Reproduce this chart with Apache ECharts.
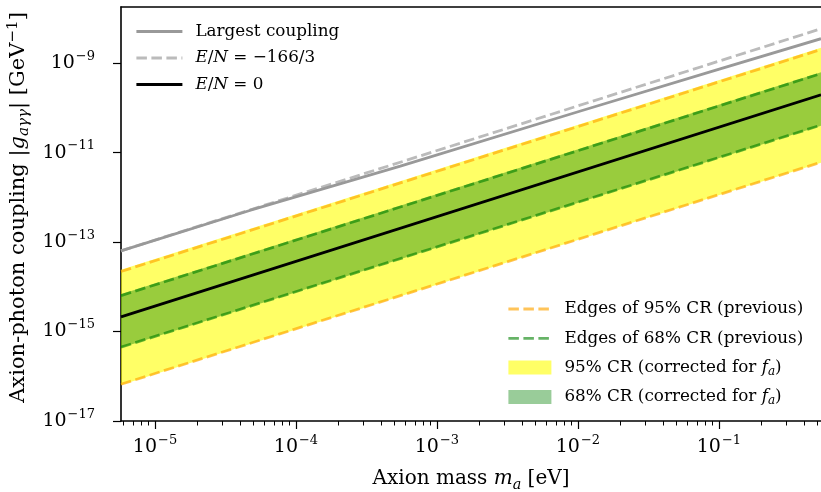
<!DOCTYPE html>
<html>
<head>
<meta charset="utf-8">
<script src="https://cdn.jsdelivr.net/npm/echarts@6/dist/echarts.min.js"></script>
<style>
  html, body { margin: 0; padding: 0; background: #fff; }
  #chart { width: 821px; height: 492px; }
</style>
</head>
<body>
<div id="chart"></div>
<script>
// plot ranges (eV, GeV^-1)
var massRange = [5.74e-6, 0.53];
var couplingRange = [1e-17, 1.8e-8];

// straight lines: value at left and right mass edge
var massEnds = [5.74e-6, 0.53];
var modelZero = [2.13e-15, 1.96e-10]; // E/N = 0
var modelMinus = [6.38e-14, 5.87e-9]; // E/N = -166/3
var prev95Upper = [2.2e-14, 2.02e-9];
var prev95Lower = [6.62e-17, 6.09e-12];
var prev68Upper = [6.36e-15, 5.85e-10];
var prev68Lower = [4.48e-16, 4.12e-11];
var corr95Upper = [2.4e-14, 2.21e-9];
var corr95Lower = [6.42e-17, 5.91e-12];
var corr68Upper = [6.79e-15, 6.25e-10];
var corr68Lower = [4.32e-16, 3.97e-11];

// largest coupling bends away from E/N=-166/3 at high mass
var largestMass = [5.74e-6, 4.7e-5, 5.5e-4, 1.03e-2, 9.4e-2, 0.53];
var largestCoupling = [6.38e-14, 5.09e-13, 4.98e-12, 8.41e-11, 6.92e-10, 3.52e-9];

var xTickExp = [-5, -4, -3, -2, -1];
var yTickExp = [-17, -15, -13, -11, -9];

var FONT = "DejaVu Serif";

(function () {
  var myChart = echarts.init(document.getElementById("chart"));
  var lg = Math.log10;

  // minor ticks 2..9 per decade
  var minorTicks = [];
  for (var d = -6; d <= 0; d++) {
    for (var k = 2; k <= 9; k++) {
      var v = lg(k) + d;
      if (v > lg(massRange[0]) && v < lg(massRange[1])) minorTicks.push(v);
    }
  }

  function pairs(xs, ys) {
    return xs.map(function (x, i) {
      return [lg(x), lg(ys[i])];
    });
  }

  function line(name, ys, color, dash, z) {
    return {
      name: name,
      type: "line",
      z: z,
      symbol: "none",
      silent: true,
      lineStyle: { color: color, width: 2.8, type: dash },
      itemStyle: { color: color },
      data: pairs(massEnds, ys),
    };
  }

  function band(name, lower, upper, color, z) {
    return {
      name: name,
      type: "custom",
      z: z,
      silent: true,
      itemStyle: { color: color },
      encode: { x: [0, 1], y: [2, 3, 4, 5] },
      data: [[lg(massEnds[0]), lg(massEnds[1]), lg(lower[0]), lg(lower[1]), lg(upper[0]), lg(upper[1])]],
      renderItem: function (params, api) {
        var pts = [
          api.coord([api.value(0), api.value(4)]),
          api.coord([api.value(1), api.value(5)]),
          api.coord([api.value(1), api.value(3)]),
          api.coord([api.value(0), api.value(2)]),
        ];
        return { type: "polygon", shape: { points: pts }, style: { fill: color } };
      },
    };
  }

  function powLabel(v) {
    return "{b|10}{s|−" + Math.abs(Math.round(v)) + "}";
  }
  var powRich = {
    b: { fontFamily: FONT, fontSize: 19, color: "#000", lineHeight: 26 },
    s: { fontFamily: FONT, fontSize: 13, color: "#000", lineHeight: 12, verticalAlign: "top", padding: [0, 0, 0, 1] },
  };

  function mathRich(size) {
    return {
      i: { fontFamily: FONT, fontSize: size, fontStyle: "italic", color: "#000" },
      sub: { fontFamily: FONT, fontSize: size * 0.72, fontStyle: "italic", color: "#000", verticalAlign: "bottom", lineHeight: 12 },
      sup: { fontFamily: FONT, fontSize: size * 0.72, color: "#000", verticalAlign: "top", lineHeight: 12 },
    };
  }

  var legendText = {
    "Largest coupling": "Largest coupling",
    "EN166": "{i|E}/{i|N} = −166/3",
    "EN0": "{i|E}/{i|N} = 0",
    "prev95": "Edges of 95% CR (previous)",
    "prev68": "Edges of 68% CR (previous)",
    "corr95": "95% CR (corrected for {i|f}{sub|a})",
    "corr68": "68% CR (corrected for {i|f}{sub|a})",
  };

  var orange = "rgba(255,165,0,0.65)";
  var green = "rgba(0,128,0,0.6)";
  var noSymbol = { opacity: 0 };
  var legendTextStyle = {
    fontFamily: FONT, fontSize: 16.8, color: "#000", lineHeight: 20,
    padding: [0, 0, 0, 8], rich: mathRich(16.8),
  };

  var option = {
    animation: false,
    grid: { left: 121, right: 0, top: 7, bottom: 71, outerBoundsMode: "none" },
    legend: [
      {
        orient: "vertical",
        left: 135,
        top: 21.5,
        padding: 0,
        itemWidth: 46,
        itemHeight: 14,
        itemGap: 6.5,
        selectedMode: false,
        lineStyle: { width: 2.8 },
        textStyle: legendTextStyle,
        formatter: function (n) { return legendText[n]; },
        data: [
          { name: "Largest coupling", itemStyle: noSymbol },
          { name: "EN166", itemStyle: noSymbol },
          { name: "EN0", itemStyle: noSymbol },
        ],
      },
      {
        orient: "vertical",
        left: 507,
        top: 299,
        padding: 0,
        itemWidth: 43,
        itemHeight: 14,
        itemGap: 9.3,
        selectedMode: false,
        lineStyle: { width: 2.8 },
        textStyle: legendTextStyle,
        formatter: function (n) { return legendText[n]; },
        data: [
          { name: "prev95", itemStyle: noSymbol },
          { name: "prev68", itemStyle: noSymbol },
          { name: "corr95", icon: "rect" },
          { name: "corr68", icon: "rect" },
        ],
      },
    ],
    xAxis: [
      {
        type: "value",
        min: lg(massRange[0]),
        max: lg(massRange[1]),
        position: "bottom",
        name: "Axion mass {i|m}{sub|a} [eV]",
        nameLocation: "middle",
        nameGap: 45,
        nameTextStyle: { fontFamily: FONT, fontSize: 20, color: "#000", lineHeight: 26, rich: mathRich(20) },
        axisLine: { show: true, onZero: false, lineStyle: { color: "#000", width: 1.6 } },
        axisTick: { show: true, length: 8, customValues: xTickExp, lineStyle: { color: "#000", width: 1.2 } },
        axisLabel: { customValues: xTickExp, margin: 13, formatter: powLabel, rich: powRich },
        splitLine: { show: false },
      },
      {
        type: "value",
        min: lg(massRange[0]),
        max: lg(massRange[1]),
        position: "bottom",
        axisLine: { show: false },
        axisTick: { show: true, length: 4.5, customValues: minorTicks, lineStyle: { color: "#000", width: 1 } },
        axisLabel: { show: false },
        splitLine: { show: false },
      },
      {
        type: "value",
        min: lg(massRange[0]),
        max: lg(massRange[1]),
        position: "top",
        axisLine: { show: true, lineStyle: { color: "#000", width: 1.6 } },
        axisTick: { show: false },
        axisLabel: { show: false },
        splitLine: { show: false },
      },
    ],
    yAxis: {
      type: "value",
      min: lg(couplingRange[0]),
      max: lg(couplingRange[1]),
      name: "Axion-photon coupling |{i|g}{sub|aγγ}| [GeV{sup|−1}]",
      nameLocation: "middle",
      nameRotate: 90,
      nameGap: 86,
      nameTextStyle: { fontFamily: FONT, fontSize: 21, color: "#000", lineHeight: 26, padding: [0, 0, 0, 13], rich: mathRich(21) },
      axisLine: { show: true, onZero: false, lineStyle: { color: "#000", width: 1.6 } },
      axisTick: { show: true, length: 8, customValues: yTickExp, lineStyle: { color: "#000", width: 1.2 } },
      axisLabel: { customValues: yTickExp, margin: 26, formatter: powLabel, rich: powRich },
      splitLine: { show: false },
    },
    series: [
      band("corr95", corr95Lower, corr95Upper, "rgba(255,255,0,0.6)", 1),
      band("corr68", corr68Lower, corr68Upper, "rgba(0,128,0,0.4)", 2),
      line("prev95", prev95Upper, orange, [10.5, 4.5], 3),
      line("prev95", prev95Lower, orange, [10.5, 4.5], 3),
      line("prev68", prev68Upper, green, [10.5, 4.5], 3),
      line("prev68", prev68Lower, green, [10.5, 4.5], 3),
      line("EN0", modelZero, "#000", "solid", 4),
      line("EN166", modelMinus, "#bbbbbb", [10.5, 4.5], 4),
      {
        name: "Largest coupling",
        type: "line",
        z: 4,
        symbol: "none",
        silent: true,
        lineStyle: { color: "#999999", width: 2.8 },
        itemStyle: { color: "#999999" },
        data: pairs(largestMass, largestCoupling),
      },
    ],
  };

  myChart.setOption(option);
  window.addEventListener("resize", function () {
    myChart.resize();
  });
})();
</script>
</body>
</html>
